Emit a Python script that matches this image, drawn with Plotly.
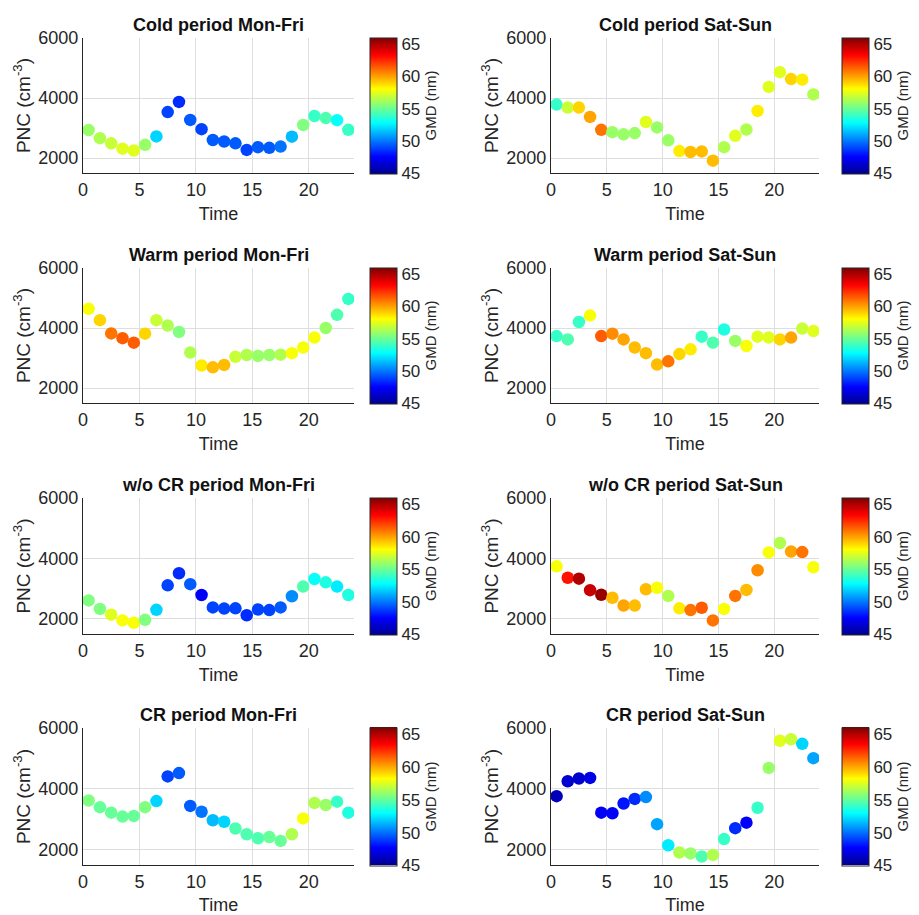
import plotly.graph_objects as go

hours = [h + 0.5 for h in range(24)]

titles = ["Cold period Mon-Fri", "Cold period Sat-Sun",
          "Warm period Mon-Fri", "Warm period Sat-Sun",
          "w/o CR period Mon-Fri", "w/o CR period Sat-Sun",
          "CR period Mon-Fri", "CR period Sat-Sun"]

cold_wd_pnc = [2930, 2660, 2490, 2310, 2250, 2440, 2720, 3530, 3870, 3270, 2960, 2600,
               2550, 2490, 2270, 2360, 2340, 2380, 2710, 3100, 3400, 3330, 3260, 2940]
cold_wd_gmd = [56, 56.5, 57, 57.5, 57.5, 56, 52, 49, 48.5, 49.5, 49, 49.5,
               49.5, 49.5, 49, 49.5, 49.5, 50, 51.5, 55.5, 54, 54.5, 53, 54]

cold_we_pnc = [3780, 3680, 3680, 3370, 2940, 2860, 2790, 2830, 3200, 3020, 2590, 2230,
               2200, 2220, 1910, 2360, 2740, 2950, 3570, 4370, 4860, 4630, 4610, 4120]
cold_we_gmd = [54, 57, 59, 60, 61, 56, 56, 56, 57.5, 56, 56, 58.5,
               59.5, 59.5, 59.5, 56.5, 57.5, 56.5, 58.5, 57.5, 57.5, 59, 58.5, 56.5]

warm_wd_pnc = [4640, 4260, 3820, 3660, 3510, 3810, 4260, 4080, 3870, 3180, 2750, 2690,
               2770, 3040, 3100, 3070, 3100, 3110, 3160, 3350, 3680, 4000, 4440, 4970]
warm_wd_gmd = [58, 59, 61, 61.5, 61.5, 59, 57, 56.5, 55.5, 56.5, 58.5, 59.5,
               59.5, 57, 56.5, 56, 56, 56.5, 58, 58, 58, 56, 54.5, 54]

warm_we_pnc = [3730, 3620, 4200, 4420, 3730, 3810, 3620, 3350, 3160, 2780, 2890, 3130,
               3290, 3710, 3510, 3950, 3570, 3400, 3710, 3680, 3620, 3680, 3980, 3900]
warm_we_gmd = [54, 54.5, 54, 58, 61.5, 60.5, 60, 59.5, 59.5, 59.5, 61, 59,
               58.5, 54, 54.5, 53.5, 56, 58, 57.5, 57.5, 59, 60, 57, 57.5]

wocr_wd_pnc = [2610, 2330, 2140, 1950, 1870, 1970, 2300, 3110, 3510, 3150, 2790, 2380,
               2340, 2350, 2120, 2310, 2290, 2380, 2750, 3070, 3320, 3210, 3070, 2790]
wocr_wd_gmd = [55.5, 55.5, 57.5, 58, 58, 55.5, 52, 49, 48.5, 49.5, 47.5, 49,
               49, 49, 48.5, 49, 49, 49.5, 50.5, 54.5, 53, 53.5, 52.5, 53.5]

wocr_we_pnc = [3740, 3360, 3330, 2950, 2800, 2700, 2440, 2440, 2980, 3030, 2760, 2350,
               2290, 2370, 1950, 2330, 2760, 2960, 3610, 4200, 4510, 4230, 4210, 3710]
wocr_we_gmd = [58, 63, 65, 64.5, 65.5, 59.5, 60, 59.5, 59.5, 58, 56.5, 58.5,
               61, 61.5, 61, 58, 61, 59.5, 60.5, 58, 56.5, 60, 61, 58]

cr_wd_pnc = [3620, 3400, 3220, 3090, 3110, 3400, 3600, 4410, 4520, 3440, 3250, 2970,
             2920, 2700, 2510, 2380, 2420, 2290, 2510, 3030, 3540, 3470, 3580, 3220]
cr_wd_gmd = [55.5, 55, 55, 55, 55, 55.5, 52, 49, 49.5, 49.5, 50, 51.5,
             52, 54.5, 54.5, 54.5, 55, 55, 56.5, 58, 56.5, 56, 54, 53.5]

cr_we_pnc = [3760, 4250, 4340, 4360, 3220, 3200, 3520, 3670, 3730, 2840, 2150, 1910,
             1880, 1780, 1830, 2350, 2710, 2890, 3380, 4690, 5580, 5630, 5480, 5010]
cr_we_gmd = [46, 46.5, 46.5, 47, 47.5, 47.5, 48, 48.5, 50.5, 51, 52.5, 56.5,
             56, 54.5, 56.5, 54, 48.5, 47.5, 54, 56, 57.5, 57, 52, 51]

pnc_series = [cold_wd_pnc, cold_we_pnc, warm_wd_pnc, warm_we_pnc,
              wocr_wd_pnc, wocr_we_pnc, cr_wd_pnc, cr_we_pnc]
gmd_series = [cold_wd_gmd, cold_we_gmd, warm_wd_gmd, warm_we_gmd,
              wocr_wd_gmd, wocr_we_gmd, cr_wd_gmd, cr_we_gmd]

x_ticks = [0, 5, 10, 15, 20]
y_ticks = [2000, 4000, 6000]
cbar_ticks = [45, 50, 55, 60, 65]

jet = [[0.0, "rgb(0,0,143)"], [0.125, "rgb(0,0,255)"], [0.375, "rgb(0,255,255)"],
       [0.625, "rgb(255,255,0)"], [0.875, "rgb(255,0,0)"], [1.0, "rgb(128,0,0)"]]

W, H = 919, 915
col_x = [(83, 354, 370), (551, 819, 842)]  # axis left, axis right, colorbar left (px)
row_y = [(38, 173), (268, 403), (498, 634), (728, 865)]  # top, bottom (px)

TXT = "#262626"
FONT = "Liberation Sans, Arial, sans-serif"

fig = go.Figure()
annotations = []
for i in range(8):
    r, c = divmod(i, 2)
    x0, x1, cbx = col_x[c]
    top, bot = row_y[r]
    n = i + 1
    xa = "x" if n == 1 else f"x{n}"
    ya = "y" if n == 1 else f"y{n}"
    fig.add_trace(go.Scatter(
        x=hours, y=pnc_series[i], mode="markers", xaxis=xa, yaxis=ya,
        showlegend=False,
        marker=dict(size=12.5, color=gmd_series[i], colorscale=jet, cmin=45, cmax=66,
                    line=dict(width=0),
                    colorbar=dict(
                        x=cbx / W, xanchor="left", xpad=0,
                        y=1 - (top + bot) / 2 / H, yanchor="middle", ypad=0,
                        len=bot - top + 1, lenmode="pixels",
                        thickness=27, thicknessmode="pixels",
                        outlinecolor=TXT, outlinewidth=1,
                        tickvals=cbar_ticks, ticks="", ticklabelposition="outside",
                        tickfont=dict(size=17, color=TXT, family=FONT),
                        title=dict(text="GMD (nm)", side="right",
                                   font=dict(size=15, color=TXT, family=FONT)),
                    ))))
    xkey = "xaxis" if n == 1 else f"xaxis{n}"
    ykey = "yaxis" if n == 1 else f"yaxis{n}"
    fig.update_layout(**{
        xkey: dict(domain=[x0 / W, x1 / W], anchor=ya, range=[0, 24],
                   tickvals=x_ticks, showgrid=True, gridcolor="#dedede", gridwidth=1,
                   zeroline=False, showline=True, linecolor=TXT, linewidth=1.3,
                   ticks="", tickfont=dict(size=18, color=TXT, family=FONT),
                   title=dict(text="Time", standoff=8,
                              font=dict(size=18, color=TXT, family=FONT))),
        ykey: dict(domain=[1 - bot / H, 1 - top / H], anchor=xa, range=[1500, 6000],
                   tickvals=y_ticks, showgrid=True, gridcolor="#dedede", gridwidth=1,
                   zeroline=False, showline=True, linecolor=TXT, linewidth=1.3,
                   ticks="", tickfont=dict(size=18, color=TXT, family=FONT),
                   title=dict(text="PNC (cm<sup>-3</sup>)", standoff=2,
                              font=dict(size=19, color=TXT, family=FONT))),
    })
    annotations.append(dict(
        text=f"<b>{titles[i]}</b>", x=(x0 + x1) / 2 / W, y=1 - top / H,
        xref="paper", yref="paper", xanchor="center", yanchor="bottom",
        yshift=1, showarrow=False, font=dict(size=18, color="#111111", family=FONT)))

fig.update_layout(width=W, height=H,
                  margin=dict(l=0, r=0, t=0, b=0, autoexpand=False),
                  plot_bgcolor="white", paper_bgcolor="white",
                  annotations=annotations, font=dict(family=FONT, color=TXT))

fig.write_html("out.html")
